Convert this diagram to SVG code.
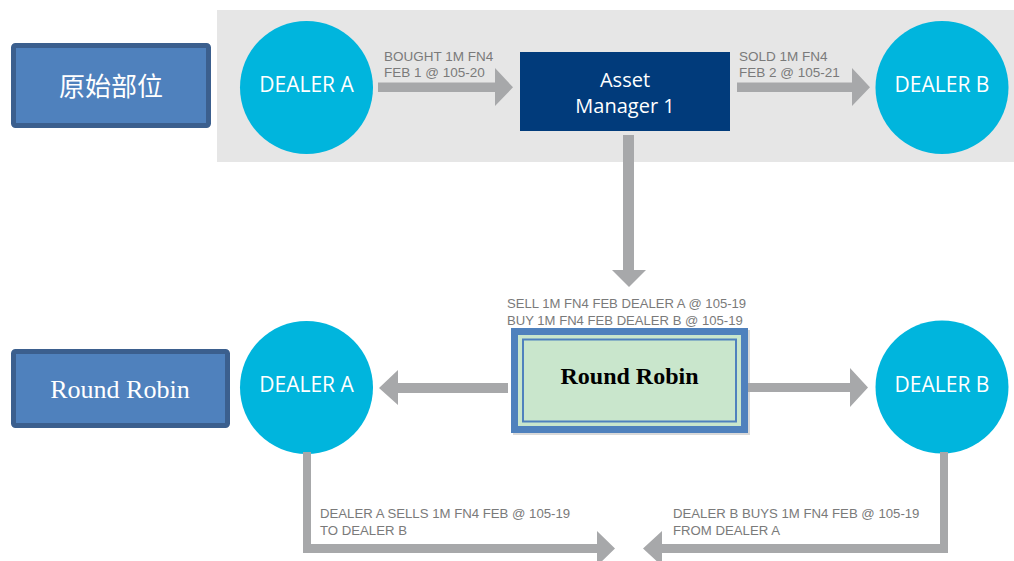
<svg xmlns="http://www.w3.org/2000/svg" width="1014" height="561" viewBox="0 0 1014 561">
<style>
.dealer{fill:#00b5dd}
.dtext{fill:#ffffff;font-family:"Open Sans","Noto Sans",sans-serif;font-size:21px;text-anchor:middle}
.lbl{fill:#7a7a7a;font-family:"Liberation Sans",Arial,sans-serif;font-size:13.5px}
.mid{font-size:13.1px}
.bot{font-size:13.2px}
.conn{fill:#a7a8aa}
.side{fill:#4f81bd;stroke:#3b5f8e;stroke-width:5}
</style>
<rect x="217" y="10" width="797" height="152" fill="#e6e6e6"/>
<g id="label-original">
<rect class="side" x="13.5" y="45.5" width="195" height="80" rx="2"/>
<text x="111" y="96" fill="#ffffff" font-family="'Noto Sans CJK SC',sans-serif" font-size="26" text-anchor="middle">原始部位</text>
</g>
<g id="label-roundrobin">
<rect class="side" x="13.5" y="351.5" width="214" height="74" rx="2"/>
<text x="120" y="398" fill="#ffffff" font-family="'Liberation Serif',serif" font-size="26" text-anchor="middle">Round Robin</text>
</g>
<g id="dealer-a-top">
<circle class="dealer" cx="306.5" cy="87.5" r="66.5"/>
<text class="dtext" x="306.5" y="92">DEALER A</text>
</g>
<g id="asset-manager">
<rect x="520" y="52" width="210" height="79" fill="#013b7b"/>
<text x="625" y="87" fill="#ffffff" font-family="'Open Sans','Noto Sans',sans-serif" font-size="20" text-anchor="middle">Asset</text>
<text x="625" y="113" fill="#ffffff" font-family="'Open Sans','Noto Sans',sans-serif" font-size="20" text-anchor="middle">Manager 1</text>
</g>
<g id="dealer-b-top">
<circle class="dealer" cx="942" cy="87.5" r="66.5"/>
<text class="dtext" x="942" y="92">DEALER B</text>
</g>
<g id="round-robin">
<rect x="513" y="330" width="237" height="105" fill="#d9d9d9"/>
<rect x="511" y="328" width="237" height="105" fill="#4f81bd"/>
<rect x="518" y="335" width="223" height="91" fill="#c9e6cc"/>
<rect x="523" y="339.5" width="213" height="82" fill="none" stroke="#4f81bd" stroke-width="2"/>
<text x="629.5" y="384" fill="#000000" font-family="'Liberation Serif',serif" font-size="24" font-weight="bold" text-anchor="middle">Round Robin</text>
</g>
<g id="dealer-a-mid">
<circle class="dealer" cx="306.5" cy="387.5" r="66.5"/>
<text class="dtext" x="306.5" y="392">DEALER A</text>
</g>
<g id="dealer-b-mid">
<circle class="dealer" cx="942" cy="387" r="66.5"/>
<text class="dtext" x="942" y="392">DEALER B</text>
</g>
<g id="connectors">
<polygon class="conn" points="378,82.5 495,82.5 495,68 513,87.25 495,106 495,92 378,92"/>
<polygon class="conn" points="737,82.5 852,82.5 852,68 870,87.25 852,106 852,92 737,92"/>
<polygon class="conn" points="623,135 634,135 634,270 646,270 629,287 612,270 623,270"/>
<polygon class="conn" points="508,383 398,383 398,370 379,388 398,405 398,393 508,393"/>
<polygon class="conn" points="748,383 850,383 850,368 868,387.5 850,407 850,392 748,392"/>
<polygon class="conn" points="303,452 311,452 311,544 597,544 597,531 615,548.5 597,566 597,553 303,553"/>
<polygon class="conn" points="940,452 948,452 948,553 662,553 662,566 643,548.5 662,531 662,544 940,544"/>
<text class="lbl" x="384" y="61">BOUGHT 1M FN4</text>
<text class="lbl" x="384" y="77">FEB 1 @ 105-20</text>
<text class="lbl" x="739" y="61">SOLD 1M FN4</text>
<text class="lbl" x="739" y="77">FEB 2 @ 105-21</text>
<text class="lbl mid" x="507" y="308">SELL 1M FN4 FEB DEALER A @ 105-19</text>
<text class="lbl mid" x="507" y="325">BUY 1M FN4 FEB DEALER B @ 105-19</text>
<text class="lbl bot" x="320" y="518">DEALER A SELLS 1M FN4 FEB @ 105-19</text>
<text class="lbl bot" x="320" y="535">TO DEALER B</text>
<text class="lbl bot" x="673" y="518">DEALER B BUYS 1M FN4 FEB @ 105-19</text>
<text class="lbl bot" x="673" y="535">FROM DEALER A</text>
</g>
</svg>
